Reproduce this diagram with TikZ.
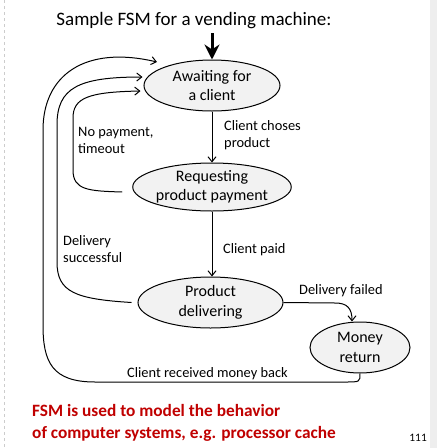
\documentclass[tikz,border=0pt]{standalone}
\usepackage{fontspec}
\setmainfont{Carlito}
\usetikzlibrary{shapes.geometric,arrows.meta,calc}
\definecolor{stategray}{HTML}{F2F2F2}
\definecolor{bandgray}{HTML}{EEEEEE}
\definecolor{dashgray}{HTML}{CCCCCC}
\definecolor{noteRed}{HTML}{C00000}
\begin{document}
\begin{tikzpicture}[x=1pt,y=-1pt,
  state/.style={ellipse,draw,fill=stategray,line width=1pt,inner sep=0pt,align=center,font=\fontsize{16}{19.5}\selectfont},
  conn/.style={line width=1pt,-{Straight Barb[length=5pt,width=8pt]}},
  initarrow/.style={line width=3pt,-{Stealth[length=15pt,width=15pt,inset=5pt]}},
  lbl/.style={anchor=base west,inner sep=0pt,align=left,font=\fontsize{14.4}{17}\selectfont}]
\useasboundingbox (0,0) rectangle (437,448);
\fill[bandgray] (430,0) rectangle (437,448);
\draw[dashgray,dashed,line width=0.6pt] (4,0) -- (4,448);

\node[anchor=base,inner sep=0pt,font=\fontsize{19}{22}\selectfont] (title) at (194,25) {Sample FSM for a vending machine:};

\node[state,minimum width=136pt,minimum height=51pt] (aw) at (212,85.5) {Awaiting for\\a client};
\node[state,minimum width=144pt,minimum height=48pt] (req) at (212,187) {Requesting\\product payment};
\node[state,minimum width=145pt,minimum height=51pt] (del) at (210.5,302.5) {Product\\delivering};
\node[state,minimum width=100pt,minimum height=51pt] (mon) at (360,347.5) {Money\\return};

\coordinate (init) at (212,33);
\draw[initarrow] (init) -- (aw.north);

\draw[conn] (aw.south) -- (req.north);
\draw[conn] (req.south) -- (req.south |- del.north);

% no payment, timeout
\draw[conn] ($(req.west)+(-10,5)$) .. controls (88,191) and (73,190) .. (73,170) -- (73,118) .. controls (73,98) and (88,92) .. ($(aw.west)+(-3,5.5)$);
% delivery successful
\draw[conn] ($(del.west)+(-6,0)$) .. controls (75,299) and (57,292) .. (57,262) -- (57,125) .. controls (57,88) and (78,77) .. ($(aw.west)+(-1,-8.5)$);
% client received money back
\draw[conn] (mon.south) .. controls (360,382) and (360,382) .. (345,382) -- (95,382) .. controls (52,382) and (43,362) .. (43,325) -- (43,130) .. controls (43,75) and (85,45) .. ($(aw.center)+(-55,-23.5)$);
% delivery failed
\draw[conn] (del.east) -- (335,303) .. controls (347,303) and (352,308) .. ($(mon.north)+(-8,0)$);

\node[lbl] (l1) at (224,147) {Client choses\\product};
\node[lbl] (l2) at (78,153) {No payment,\\timeout};
\node[lbl] (l3) at (223,253) {Client paid};
\node[lbl] (l4) at (63,262) {Delivery\\successful};
\node[lbl] (l5) at (299,294) {Delivery failed};
\node[lbl] (l6) at (127,377) {Client received money back};

\node[anchor=base west,inner sep=0pt,align=left,text=noteRed,font=\bfseries\fontsize{17.3}{21.5}\selectfont] (note) at (32,438) {FSM is used to model the behavior\\of computer systems, e.g. processor cache};
\node[anchor=base east,inner sep=0pt,font=\fontsize{11.4}{13}\selectfont] (page) at (427,441) {111};
\end{tikzpicture}
\end{document}
